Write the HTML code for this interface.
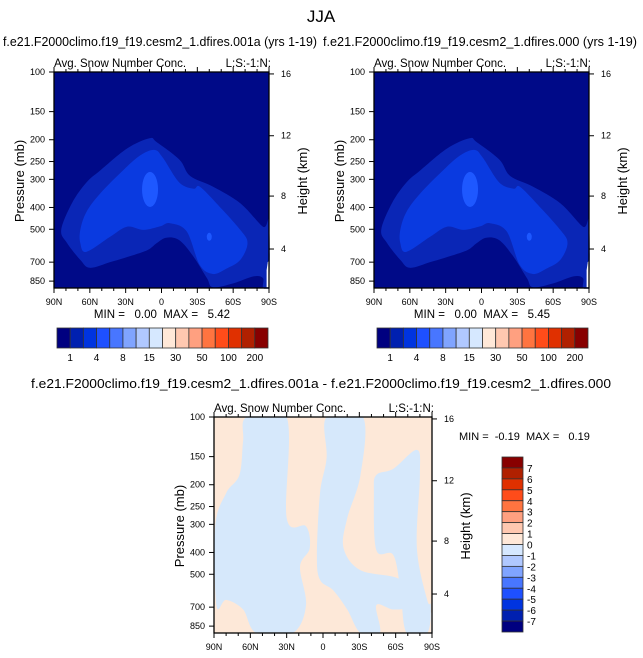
<!DOCTYPE html>
<html><head><meta charset="utf-8">
<style>
html,body{margin:0;padding:0;background:#fff;}
svg{display:block;font-family:"Liberation Sans",Arial,sans-serif;}
.pre{white-space:pre;}
</style></head>
<body>
<svg id="fig" width="643" height="658" viewBox="0 0 643 658" xmlns="http://www.w3.org/2000/svg">
<text x="321" y="22" font-size="17" text-anchor="middle">JJA</text>
</svg>
<script>
// ---------- data ----------
const latTicks = [90, 60, 30, 0, -30, -60, -90];
const latTickLabels = ["90N","60N","30N","0","30S","60S","90S"];
const presTicks = [100, 150, 200, 250, 300, 400, 500, 700, 850];
const heightTicks = [16, 12, 8, 4];
const heightTickPres = [102, 192, 356, 612];
const topLevels = ["1","4","8","15","30","50","100","200"];
const diffLevels = ["7","6","5","4","3","2","1","0","-1","-2","-3","-4","-5","-6","-7"];
const cbColors = ["#000080","#0020b0","#0034e0","#1e50ff","#4876ff","#80a4ff","#b0c8ff","#d6e8ff","#ffe8d8","#ffc8b0","#ffa080","#ff7440","#ff4c1a","#e03000","#b02000","#880000"];
const fillColors = ["#000a88","#0a26b6","#0a3ae0","#1e58ff"];
// contour polygons [lat, pressure]
const level1Poly = [[84,503],[75,383],[63,310],[51,273],[29,219],[10,197],[4,205],[-15,245],[-24,290],[-43,323],[-66,383],[-85,487],[-90,465],[-90,905],[-85,905],[-85,824],[-77,810],[-60,870],[-43,905],[-38,824],[-27,665],[-15,560],[-4,545],[4,576],[12,620],[29,665],[43,700],[60,742],[68,684],[79,576]];
const level2Poly = [[68,503],[63,420],[51,345],[32,273],[18,235],[6,222],[-1,240],[-15,310],[-27,330],[-32,323],[-46,383],[-66,503],[-72,576],[-66,684],[-54,750],[-43,790],[-32,720],[-21,510],[-7,470],[1,485],[15,503],[29,487],[43,540],[63,630],[68,576]];
const level3Ellipse = [9.6, 278, 398];
const level3Dot = [-40, 540];
const missingPoly = [[-88,905],[-88,760],[-89,700],[-90,690],[-90,905]];
const diffBlue1 = [[63,100],[30,100],[30,282],[14,306],[11,383],[19,463],[14,686],[25,912],[55,912],[66,717],[80,650],[88,686],[89,306],[80,218],[69,181],[66,128]];
const diffBlue2 = [[-3,100],[-33,100],[-31,181],[-20,282],[-17,383],[-31,480],[-64,529],[-69,686],[-58,717],[-44,686],[-47,912],[-31,912],[-20,717],[-8.5,590],[2.5,529],[5,410],[2.5,218],[-3,152]];
const diffBlue3 = [[-58,170],[-77.5,140],[-80,181],[-77.5,383],[-86,650],[-89,686],[-86,912],[-69,912],[-64,590],[-58,410],[-44,390],[-42,218],[-44,181]];
const diffMissing = [[-89,912],[-89,740],[-90,740],[-90,912]];

// ---------- helpers ----------
const NS = "http://www.w3.org/2000/svg";
const svg = document.getElementById("fig");
function mk(tag, attrs, parent){ const e=document.createElementNS(NS,tag); for(const k in attrs) e.setAttribute(k, attrs[k]); (parent||svg).appendChild(e); return e; }
const PMAX = 100*Math.pow(10,0.96);
function makeAxes(x0,y0,w,h){
  return {
    x: lat => x0 + (90-lat)/180*w,
    y: p => y0 + Math.log10(p/100)/Math.log10(PMAX/100)*h,
  };
}
function smoothPath(ax, pts){
  const P = pts.map(p=>[ax.x(p[0]), Math.min(ax.y(p[1]), ax.y(PMAX))]);
  const n = P.length; let d = "M"+P[0][0].toFixed(1)+","+P[0][1].toFixed(1);
  for(let i=0;i<n;i++){
    const p0=P[(i-1+n)%n], p1=P[i], p2=P[(i+1)%n], p3=P[(i+2)%n];
    const c1=[p1[0]+(p2[0]-p0[0])/6, p1[1]+(p2[1]-p0[1])/6];
    const c2=[p2[0]-(p3[0]-p1[0])/6, p2[1]-(p3[1]-p1[1])/6];
    d += " C"+c1.map(v=>v.toFixed(1)).join(",")+" "+c2.map(v=>v.toFixed(1)).join(",")+" "+p2.map(v=>v.toFixed(1)).join(",");
  }
  return d+"Z";
}
function polyStr(ax, pts){ return pts.map(p=>ax.x(p[0]).toFixed(1)+","+Math.min(ax.y(p[1]), ax.y(PMAX)).toFixed(1)).join(" "); }

function drawFrame(g, ax, x0,y0,w,h){
  const fs = 9;
  mk("rect",{x:x0,y:y0,width:w,height:h,fill:"none",stroke:"#000","stroke-width":1.3},g);
  for(let lat=90; lat>=-90; lat-=10){
    const major = lat%30===0; const L = major?5:3;
    const xx = ax.x(lat);
    mk("line",{x1:xx,y1:y0+h,x2:xx,y2:y0+h+L,stroke:"#000","stroke-width":1},g);
    mk("line",{x1:xx,y1:y0,x2:xx,y2:y0-L,stroke:"#000","stroke-width":1},g);
  }
  latTicks.forEach((lat,i)=>{
    const t = mk("text",{x:ax.x(lat),y:y0+h+17,"font-size":fs,"text-anchor":"middle"},g);
    
    
    t.textContent = latTickLabels[i];
  });
  presTicks.forEach(p=>{
    const yy = ax.y(p);
    mk("line",{x1:x0,y1:yy,x2:x0-5,y2:yy,stroke:"#000","stroke-width":1},g);
    const t = mk("text",{x:x0-9,y:yy+3,"font-size":fs,"text-anchor":"end"},g);
    
    
    t.textContent = p;
  });
  heightTicks.forEach((km,i)=>{
    const yy = ax.y(heightTickPres[i]);
    mk("line",{x1:x0+w,y1:yy,x2:x0+w+5,y2:yy,stroke:"#000","stroke-width":1},g);
    const t = mk("text",{x:x0+w+12,y:yy+3,"font-size":fs},g);
    
    
    t.textContent = km;
  });
  const cy = y0+h/2;
  const pl = mk("text",{x:x0-30,y:cy+1,"font-size":13,"text-anchor":"middle",transform:`rotate(-90 ${x0-30} ${cy+1})`},g);
  
  
  pl.textContent = "Pressure (mb)";
  const hl = mk("text",{x:x0+w+38,y:cy+1,"font-size":13,"text-anchor":"middle",transform:`rotate(-90 ${x0+w+38} ${cy+1})`},g);
  
  
  hl.textContent = "Height (km)";
  const st = mk("text",{x:x0,y:y0-5,"font-size":11.5},g);
  
  
  st.textContent = "Avg. Snow Number Conc.";
  const rt = mk("text",{x:x0+w+2,y:y0-5,"font-size":11.5,"text-anchor":"end"},g);
  
  
  rt.textContent = "L:S:-1:N:";
}

function topPanel(x0, title, maxv, name){
  const y0=72,w=215,h=216;
  const g = mk("g",{});
  
  
  const ax = makeAxes(x0,y0,w,h);
  const tt = mk("text",{x:x0-51,y:46,"font-size":13,textLength:314,lengthAdjust:"spacingAndGlyphs"},g);
  
  
  tt.textContent = title;
  mk("rect",{x:x0,y:y0,width:w,height:h,fill:fillColors[0]},g);
  const p1 = mk("path",{d:smoothPath(ax,level1Poly),fill:fillColors[1]},g);
  
  
  const p2 = mk("path",{d:smoothPath(ax,level2Poly),fill:fillColors[2]},g);
  
  
  const ey1=ax.y(level3Ellipse[1]), ey2=ax.y(level3Ellipse[2]);
  const e3 = mk("ellipse",{cx:ax.x(level3Ellipse[0]),cy:(ey1+ey2)/2,rx:8,ry:(ey2-ey1)/2,fill:fillColors[3]},g);
  
  
  const d3 = mk("ellipse",{cx:ax.x(level3Dot[0]),cy:ax.y(level3Dot[1]),rx:2.5,ry:4,fill:fillColors[3]},g);
  
  
  const m = mk("polygon",{points:polyStr(ax,missingPoly),fill:"#fff"},g);
  
  
  mk("rect",{x:x0,y:y0+h+0.7,width:w,height:10,fill:"#fff"},g);
  drawFrame(g,ax,x0,y0,w,h);
  const mm = mk("text",{x:x0+108,y:318,"font-size":11.5,"text-anchor":"middle","class":"pre"},g);
  
  
  mm.textContent = "MIN =   0.00  MAX =   "+maxv;
  const cx0=x0+3, cw=211/16;
  cbColors.forEach((c,i)=>{
    const r = mk("rect",{x:cx0+i*cw,y:328,width:cw,height:20,fill:c,stroke:"#333","stroke-width":0.8},g);
    
    
  });
  topLevels.forEach((lv,i)=>{
    const t = mk("text",{x:cx0+(2*i+1)*cw,y:361,"font-size":10,"text-anchor":"middle"},g);
    
    
    t.textContent = lv;
  });
}
topPanel(54, "f.e21.F2000climo.f19_f19.cesm2_1.dfires.001a (yrs 1-19)", "5.42", "panel-case-001a");
topPanel(374, "f.e21.F2000climo.f19_f19.cesm2_1.dfires.000 (yrs 1-19)", "5.45", "panel-case-000");

// ---------- bottom diff panel ----------
(function(){
  const x0=214,y0=417,w=218,h=216;
  const g = mk("g",{});
  
  
  const ax = makeAxes(x0,y0,w,h);
  const tt = mk("text",{x:321,y:388,"font-size":12.5,"text-anchor":"middle",textLength:580,lengthAdjust:"spacingAndGlyphs"},g);
  
  
  tt.textContent = "f.e21.F2000climo.f19_f19.cesm2_1.dfires.001a - f.e21.F2000climo.f19_f19.cesm2_1.dfires.000";
  mk("rect",{x:x0,y:y0,width:w,height:h,fill:"#fde8d8"},g);
  [diffBlue1,diffBlue2,diffBlue3].forEach(poly=>{
    const p = mk("path",{d:smoothPath(ax,poly),fill:"#d6e8fb"},g);
    
    
  });
  const m = mk("polygon",{points:polyStr(ax,diffMissing),fill:"#fff"},g);
  
  
  mk("rect",{x:x0,y:y0-10,width:w,height:9.3,fill:"#fff"},g);
  mk("rect",{x:x0,y:y0+h+0.7,width:w,height:10,fill:"#fff"},g);
  drawFrame(g,ax,x0,y0,w,h);
  const mm = mk("text",{x:459,y:440,"font-size":11,"class":"pre"},g);
  
  
  mm.textContent = "MIN =  -0.19  MAX =   0.19";
  const dcols = cbColors.slice().reverse();
  const bh = 175/16;
  dcols.forEach((c,i)=>{
    const r = mk("rect",{x:502,y:457+i*bh,width:21,height:bh,fill:c,stroke:"#333","stroke-width":0.8},g);
    
    
  });
  diffLevels.forEach((lv,i)=>{
    const t = mk("text",{x:527,y:457+(i+1)*bh+4,"font-size":10},g);
    
    
    t.textContent = lv;
  });
})();
</script>
</body></html>
